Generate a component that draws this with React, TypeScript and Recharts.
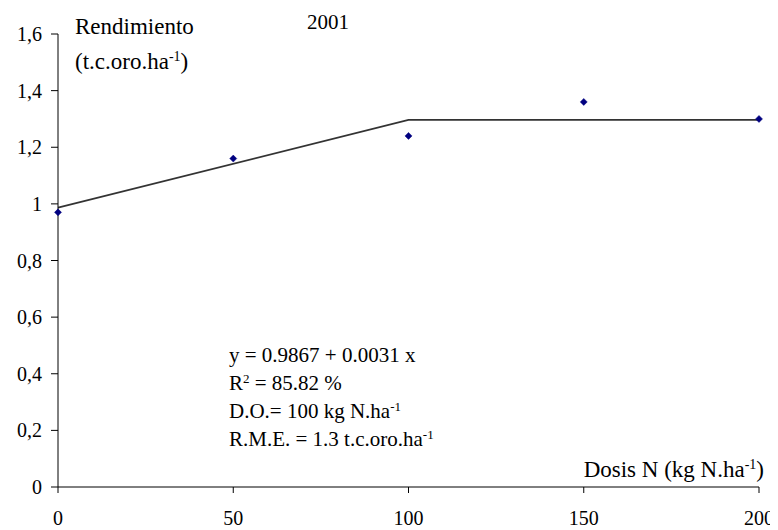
import React from "react";
import { ComposedChart, Line, Scatter, XAxis, YAxis } from "recharts";

const doses = [0, 50, 100, 150, 200];
const yields = [0.97, 1.16, 1.24, 1.36, 1.3];
const fitX = [0, 100, 200];
const fitY = [0.9867, 1.2967, 1.2967];
const xTicks = [0, 50, 100, 150, 200];
const yTicks = [0, 0.2, 0.4, 0.6, 0.8, 1, 1.2, 1.4, 1.6];

const pointData = doses.map((x, i) => ({ x, y: yields[i] }));
const fitData = fitX.map((x, i) => ({ x, y: fitY[i] }));

const FONT = '"Liberation Serif", "Times New Roman", serif';

const Diamond = (props: any) => {
  const { cx, cy } = props;
  if (cx == null || cy == null) return null;
  const r = 3.5;
  return (
    <polygon
      points={`${cx},${cy - r} ${cx + r},${cy} ${cx},${cy + r} ${cx - r},${cy}`}
      fill="#000080"
      stroke="#000080"
      strokeWidth={0.5}
    />
  );
};

const sup = (s: string, size = 13, top = -4) => (
  <span style={{ fontSize: size, verticalAlign: "top", position: "relative", top }}>{s}</span>
);

const txt = (pos: React.CSSProperties, content: React.ReactNode, size = 21) => (
  <div
    style={{
      position: "absolute",
      fontFamily: FONT,
      fontSize: size,
      lineHeight: "24px",
      color: "#000",
      whiteSpace: "nowrap",
      ...pos,
    }}
  >
    {content}
  </div>
);

export default function App() {
  return (
    <div style={{ position: "relative", width: 770, height: 522 }}>
      <ComposedChart
        width={770}
        height={522}
        margin={{ top: 26, right: 19, bottom: 8, left: 0 }}
        style={{ overflow: "visible" }}
      >
        <XAxis
          type="number"
          dataKey="x"
          domain={[0, 200]}
          ticks={xTicks}
          height={35}
          tickSize={6}
          tickMargin={18}
          axisLine={{ stroke: "#000", strokeWidth: 1 }}
          tickLine={{ stroke: "#000", strokeWidth: 1 }}
          tick={{ fill: "#000", fontFamily: FONT, fontSize: 20 }}
        />
        <YAxis
          type="number"
          dataKey="y"
          domain={[0, 1.6]}
          ticks={yTicks}
          width={50}
          tickSize={7}
          tickMargin={9}
          tickFormatter={(v: number) => String(v).replace(".", ",")}
          axisLine={{ stroke: "#000", strokeWidth: 1 }}
          tickLine={{ stroke: "#000", strokeWidth: 1 }}
          tick={{ fill: "#000", fontFamily: FONT, fontSize: 20 }}
        />
        <Line
          data={fitData}
          dataKey="y"
          type="linear"
          stroke="#333333"
          strokeWidth={1.6}
          dot={false}
          activeDot={false}
          isAnimationActive={false}
        />
        <Scatter
          data={pointData}
          dataKey="y"
          shape={<Diamond />}
          isAnimationActive={false}
        />
      </ComposedChart>
      {txt({ left: 67, top: 7 }, "Rendimiento", 23)}
      {txt({ left: 67, top: 42 }, <span>(t.c.oro.ha{sup("-1", 14, -5)})</span>, 23)}
      {txt({ left: 299, top: 2 }, "2001")}
      {txt({ left: 221, top: 335 }, "y = 0.9867 + 0.0031 x")}
      {txt({ left: 221, top: 363 }, <span>R{sup("2")} = 85.82 %</span>)}
      {txt({ left: 221, top: 391 }, <span>D.O.= 100 kg N.ha{sup("-1")}</span>)}
      {txt({ left: 221, top: 419 }, <span>R.M.E. = 1.3 t.c.oro.ha{sup("-1")}</span>)}
      {txt({ right: 14, top: 450 }, <span>Dosis N (kg N.ha{sup("-1", 14, -5)})</span>, 23)}
    </div>
  );
}
